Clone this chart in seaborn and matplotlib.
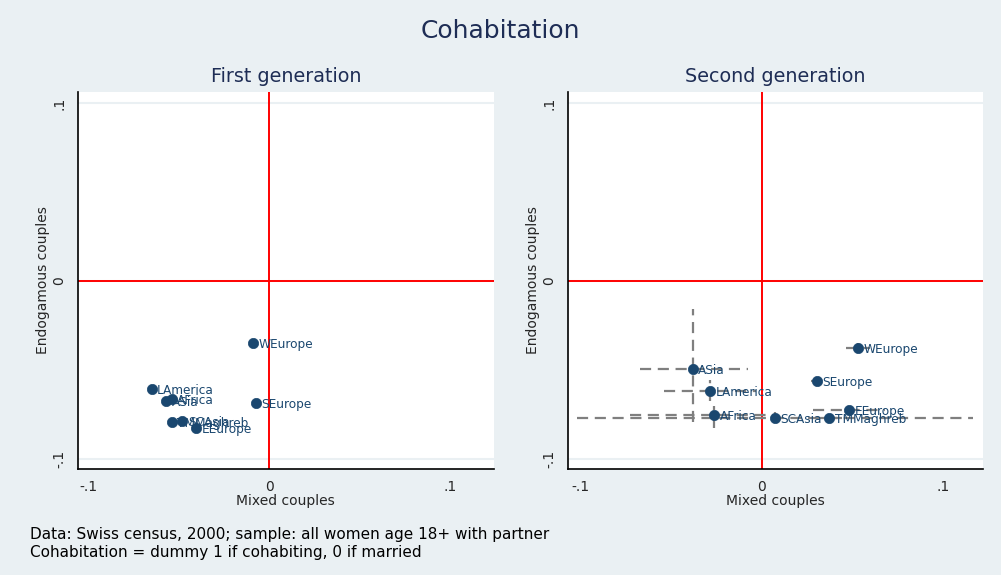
import matplotlib
matplotlib.use("Agg")
import matplotlib.pyplot as plt
import seaborn as sns
import pandas as pd

# origin groups (same order in both panels)
groups = ["WEurope", "SEurope", "EEurope", "TMMaghreb", "SCAsia", "LAmerica", "AFrica", "ASia"]

# first generation: point estimates
gen1_mixed = [-0.0088, -0.0075, -0.0405, -0.0539, -0.0480, -0.0650, -0.0539, -0.0570]
gen1_endo = [-0.0347, -0.0684, -0.0828, -0.0794, -0.0785, -0.0607, -0.0663, -0.0672]

# second generation: point estimates and confidence intervals
gen2_mixed = [0.0532, 0.0302, 0.0482, 0.0372, 0.0072, -0.0287, -0.0263, -0.0383]
gen2_endo = [-0.0378, -0.0562, -0.0725, -0.0771, -0.0771, -0.0616, -0.0753, -0.0494]
gen2_mixed_lo = [0.0466, 0.0269, 0.0280, 0.0300, -0.1024, -0.0540, -0.0729, -0.0674]
gen2_mixed_hi = [0.0597, 0.0348, 0.0680, 0.0440, 0.1167, -0.0030, 0.0080, -0.0076]
gen2_endo_lo = [-0.0406, -0.0580, -0.0745, -0.0785, -0.0800, -0.0676, -0.0828, -0.0790]
gen2_endo_hi = [-0.0350, -0.0545, -0.0705, -0.0757, -0.0734, -0.0556, -0.0702, -0.0159]

ticks = [-0.1, 0, 0.1]
tick_labels = ["-.1", "0", ".1"]

BG = "#EAF0F3"
NAVY = "#1A476F"
TITLE = "#1E2D55"


def style_panel(ax, title, xlim):
    ax.set_facecolor("white")
    ax.set_xlim(xlim)
    ax.set_ylim(-0.1056, 0.1063)
    for y in ticks:
        ax.axhline(y, color=BG, lw=1.5, zorder=0)
    ax.axhline(0, color="red", lw=1.4, zorder=1)
    ax.axvline(0, color="red", lw=1.4, zorder=1)
    ax.set_xticks(ticks)
    ax.set_xticklabels(tick_labels)
    ax.set_yticks(ticks)
    ax.set_yticklabels(tick_labels, rotation=90, va="center")
    ax.tick_params(direction="out", length=5, width=1.1, labelsize=10, pad=3, color="black")
    for side in ["top", "right"]:
        ax.spines[side].set_visible(False)
    for side in ["left", "bottom"]:
        ax.spines[side].set_color("black")
        ax.spines[side].set_linewidth(1.2)
    ax.set_xlabel("Mixed couples", fontsize=10, labelpad=0)
    ax.set_ylabel("Endogamous couples", fontsize=10, labelpad=2)
    ax.set_title(title, fontsize=13.8, color=TITLE, pad=7)
    ax.grid(False)


def draw_points(ax, df):
    sns.scatterplot(data=df, x="mixed", y="endo", ax=ax, color=NAVY, s=55,
                    edgecolor=NAVY, linewidth=0.5, zorder=4, legend=False)
    for _, r in df.iterrows():
        ax.annotate(r["group"], (r["mixed"], r["endo"]), xytext=(4, -1),
                    textcoords="offset points", va="center", ha="left",
                    fontsize=8.7, color=NAVY, zorder=5)


sns.set_theme(style="white")
plt.rcParams["font.family"] = ["DejaVu Sans"]

fig = plt.figure(figsize=(10.01, 5.75), dpi=100)
fig.patch.set_facecolor(BG)

ax1 = fig.add_axes([0.0776, 0.1843, 0.4159, 0.6562])
ax2 = fig.add_axes([0.5671, 0.1843, 0.4149, 0.6562])

df1 = pd.DataFrame({"group": groups, "mixed": gen1_mixed, "endo": gen1_endo})
df2 = pd.DataFrame({"group": groups, "mixed": gen2_mixed, "endo": gen2_endo,
                    "xlo": gen2_mixed_lo, "xhi": gen2_mixed_hi,
                    "ylo": gen2_endo_lo, "yhi": gen2_endo_hi})

style_panel(ax1, "First generation", (-0.1059, 0.1242))
style_panel(ax2, "Second generation", (-0.1073, 0.1221))

draw_points(ax1, df1)

# confidence intervals, dashed grey
dash = (0, (5, 3))
ax2.hlines(df2["endo"], df2["xlo"], df2["xhi"], colors="#7F7F7F", lw=1.6,
           linestyles=dash, zorder=3)
ax2.vlines(df2["mixed"], df2["ylo"], df2["yhi"], colors="#7F7F7F", lw=1.6,
           linestyles=dash, zorder=3)
draw_points(ax2, df2)

fig.suptitle("Cohabitation", fontsize=18, color=TITLE, y=0.967)

fig.text(0.03, 0.07, "Data: Swiss census, 2000; sample: all women age 18+ with partner",
         fontsize=11, color="black", va="center")
fig.text(0.03, 0.04, "Cohabitation = dummy 1 if cohabiting, 0 if married",
         fontsize=11, color="black", va="center")

fig.savefig("out.png", dpi=100, facecolor=BG)
